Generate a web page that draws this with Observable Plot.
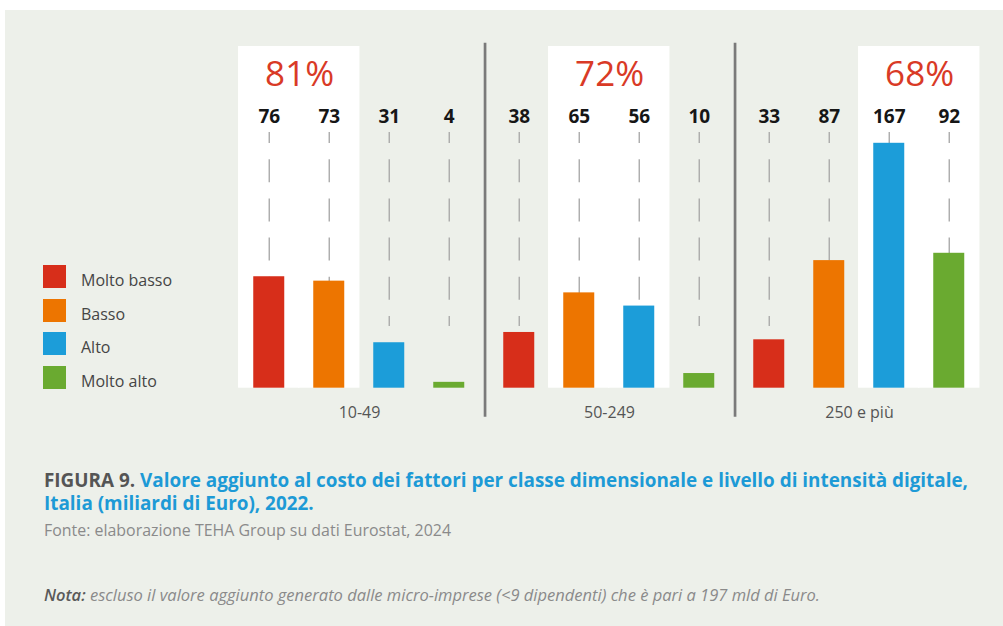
<!DOCTYPE html>
<html>
<head>
<meta charset="utf-8">
<script src="https://cdn.jsdelivr.net/npm/d3@7"></script>
<script src="https://cdn.jsdelivr.net/npm/@observablehq/plot@0.6"></script>
<style>
  html, body { margin: 0; padding: 0; background: #ffffff; }
  #page { position: relative; width: 1003px; height: 626px; overflow: hidden; background: #ffffff; font-family: "Open Sans", sans-serif; }
  #bg { position: absolute; left: 5px; top: 10px; right: 0; bottom: 0; background: #edf0ea; }
  #chart { position: absolute; left: 0; top: 0; }
  #legend { position: absolute; left: 43px; top: 0; }
  .item { position: absolute; left: 0; width: 200px; height: 23px; }
  .sw { position: absolute; left: 0; top: 0; width: 23px; height: 23px; }
  .lab { position: absolute; left: 38px; top: 4px; font-size: 16px; line-height: 23px; color: #454545; white-space: nowrap; }
  .cap { position: absolute; left: 44px; white-space: nowrap; transform-origin: 0 0; }
  .title { font-size: 20px; line-height: 23px; height: 23px; font-weight: 700; color: #1d9ad6; }
  #title1 { top: 467.7px; }
  #title2 { top: 490.7px; }
  .title .fig { color: #555555; }
  #fonte { top: 521.8px; font-size: 16px; line-height: 16px; color: #8a8a8a; }
  #nota { top: 586.5px; font-size: 16px; line-height: 16px; color: #8a8a8a; font-style: italic; }
  #nota b { color: #5a5a5a; font-weight: 600; }
</style>
</head>
<body>
<div id="page">
  <div id="bg"></div>
  <div id="chart"></div>
  <div id="legend"></div>
  <div class="cap title" id="title1"><span class="fig">FIGURA 9.</span> Valore aggiunto al costo dei fattori per classe dimensionale e livello di intensità digitale,</div>
  <div class="cap title" id="title2">Italia (miliardi di Euro), 2022.</div>
  <div class="cap" id="fonte">Fonte: elaborazione TEHA Group su dati Eurostat, 2024</div>
  <div class="cap" id="nota"><b>Nota:</b> escluso il valore aggiunto generato dalle micro-imprese (&lt;9 dipendenti) che è pari a 197 mld di Euro.</div>
</div>
<script>
// ---- data ----
const groups = ["10-49", "50-249", "250 e più"];
const levels = ["Molto basso", "Basso", "Alto", "Molto alto"];
const colors = ["#d72e1a", "#ed7500", "#1c9dd9", "#6aaa30"];
const values10_49 = [76, 73, 31, 4];
const values50_249 = [38, 65, 56, 10];
const values250 = [33, 87, 167, 92];
const shares = ["81%", "72%", "68%"];
const highlighted = [["Molto basso", "Basso"], ["Basso", "Alto"], ["Alto", "Molto alto"]];

const series = [values10_49, values50_249, values250];
const data = groups.flatMap((g, i) => levels.map((l, j) => ({group: g, level: l, value: series[i][j]})));
const panelData = groups.flatMap((g, i) => highlighted[i].map(l => ({group: g, level: l})));
const shareData = groups.map((g, i) => ({group: g, level: highlighted[i][0], text: shares[i]}));

const plot = Plot.plot({
  width: 1003,
  height: 430,
  marginLeft: 232.75,
  marginRight: 18.75,
  marginTop: 46,
  marginBottom: 42.3,
  style: {background: "transparent", fontFamily: "Open Sans, sans-serif"},
  fx: {domain: groups, padding: 0, label: null},
  x: {domain: levels, paddingInner: 0.489, paddingOuter: 0.308, axis: null},
  y: {domain: [0, 233], axis: null},
  color: {domain: levels, range: colors},
  marks: [
    Plot.cell(panelData, {fx: "group", x: "level", fill: "white", insetLeft: -15.2, insetRight: -15.2}),
    Plot.ruleX(data, {fx: "group", x: "level", stroke: "#ababab", strokeWidth: 1.4,
      strokeDasharray: "23,16.2", strokeDashoffset: 12, insetTop: 86, insetBottom: 61.7}),
    Plot.barY(data, {fx: "group", x: "level", y: "value", fill: "level"}),
    Plot.text(data, {fx: "group", x: "level", text: d => String(d.value), frameAnchor: "top", dy: 62.6,
      fontSize: 19, fontWeight: 700, fill: "#161616"}),
    Plot.text(shareData, {fx: "group", x: "level", text: "text", frameAnchor: "top", dy: 14.8, dx: 30.35,
      fontSize: 35, fill: "#d93a26"}),
    Plot.ruleX(groups.slice(1), {fx: d => d, x: () => levels[0], dx: -34.2, stroke: "#7a7a7a", strokeWidth: 2.7,
      insetTop: -3.3, insetBottom: -29}),
    Plot.axisFx({anchor: "bottom", tickSize: 0, tickPadding: 18.3, fontSize: 16, label: null, color: "#555555"})
  ]
});
document.getElementById("chart").appendChild(plot);

// legend
const legend = document.getElementById("legend");
levels.forEach((l, i) => {
  const item = document.createElement("div");
  item.className = "item";
  item.style.top = (265 + i * 33.7) + "px";
  const sw = document.createElement("div");
  sw.className = "sw";
  sw.style.background = colors[i];
  const lab = document.createElement("div");
  lab.className = "lab";
  lab.textContent = l;
  item.appendChild(sw);
  item.appendChild(lab);
  legend.appendChild(item);
});

// fit caption widths to the reference layout
function scaleFor(id, target) {
  const w = document.getElementById(id).getBoundingClientRect().width;
  return w > 0 ? target / w : 1;
}
const kTitle = scaleFor("title1", 924);
document.getElementById("title1").style.transform = `scaleX(${kTitle})`;
document.getElementById("title2").style.transform = `scaleX(${kTitle})`;
document.getElementById("fonte").style.transform = `scaleX(${scaleFor("fonte", 407)})`;
document.getElementById("nota").style.transform = `scaleX(${scaleFor("nota", 776)})`;
</script>
</body>
</html>
